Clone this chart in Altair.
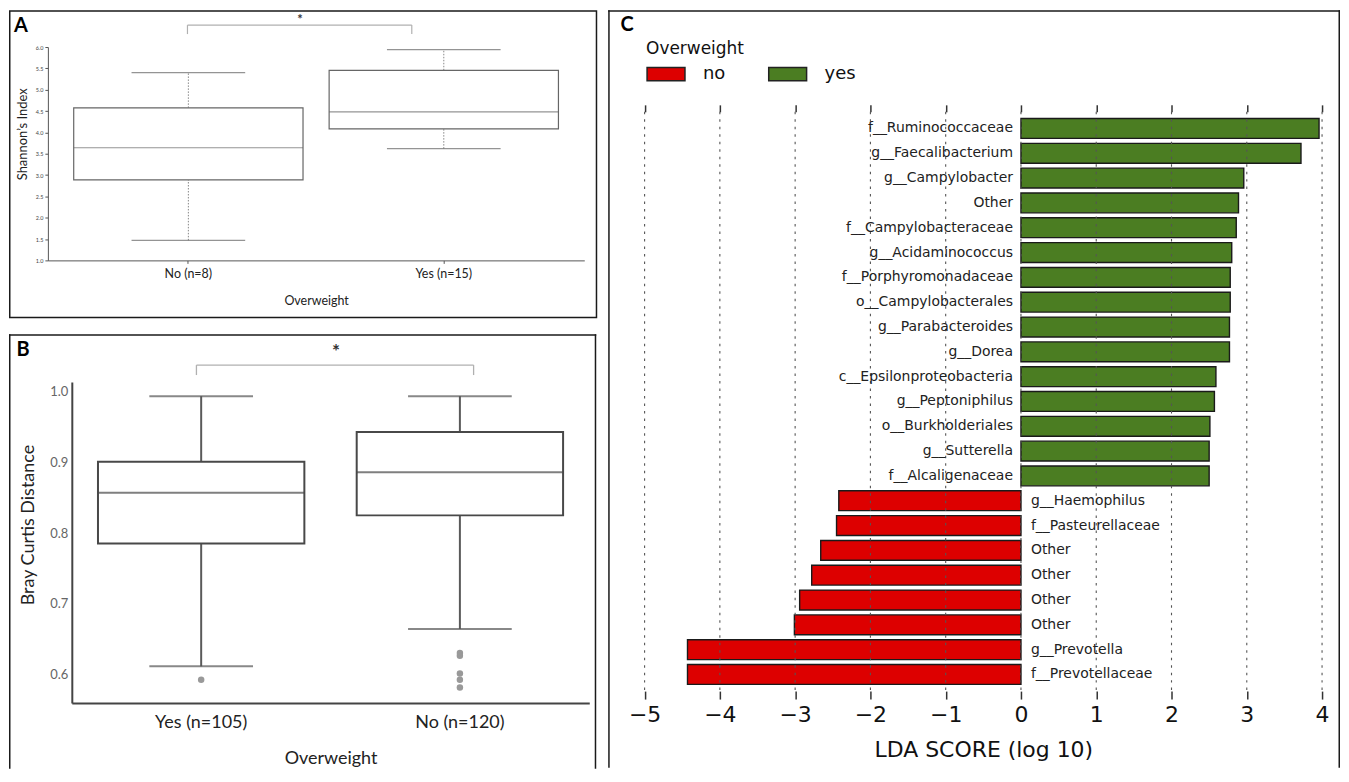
import altair as alt
import pandas as pd

# ---------------- Panel A : Shannon's index (box-plot summaries) ----------------
groups_a = ["No (n=8)", "Yes (n=15)"]
low_a = [1.47, 3.62]
q1_a = [2.885, 4.08]
med_a = [3.64, 4.48]
q3_a = [4.575, 5.455]
high_a = [5.40, 5.94]
ticks_a = [1.0, 1.5, 2.0, 2.5, 3.0, 3.5, 4.0, 4.5, 5.0, 5.5, 6.0]

# ---------------- Panel B : Bray Curtis distance ----------------
groups_b = ["Yes (n=105)", "No (n=120)"]
low_b = [0.611, 0.664]
q1_b = [0.785, 0.825]
med_b = [0.857, 0.886]
q3_b = [0.901, 0.943]
high_b = [0.994, 0.994]
outlier_group_b = ["Yes (n=105)", "No (n=120)", "No (n=120)", "No (n=120)", "No (n=120)", "No (n=120)"]
outlier_value_b = [0.592, 0.630, 0.626, 0.601, 0.592, 0.581]
ticks_b = [0.6, 0.7, 0.8, 0.9, 1.0]

# ---------------- Panel C : LDA scores ----------------
taxa_c = [
    "f__Ruminococcaceae", "g__Faecalibacterium", "g__Campylobacter", "Other",
    "f__Campylobacteraceae", "g__Acidaminococcus", "f__Porphyromonadaceae",
    "o__Campylobacterales", "g__Parabacteroides", "g__Dorea",
    "c__Epsilonproteobacteria", "g__Peptoniphilus", "o__Burkholderiales",
    "g__Sutterella", "f__Alcaligenaceae", "g__Haemophilus", "f__Pasteurellaceae",
    "Other", "Other", "Other", "Other", "g__Prevotella", "f__Prevotellaceae",
]
lda_c = [3.96, 3.72, 2.96, 2.89, 2.86, 2.80, 2.78, 2.78, 2.77, 2.77, 2.59, 2.57,
         2.51, 2.50, 2.50, -2.42, -2.45, -2.66, -2.78, -2.94, -3.01, -4.43, -4.43]
class_c = ["yes"] * 15 + ["no"] * 8
ticks_c = [-5, -4, -3, -2, -1, 0, 1, 2, 3, 4]
classes = ["no", "yes"]
class_colors = ["#dd0000", "#4b7d22"]

FONT_AB = "Lato"
FONT_C = "DejaVu Sans"
FRAME = "#1a1a1a"
one = pd.DataFrame({"k": [0]})


def deco():
    return alt.Chart(one)


def frame_closed(w, h):
    return deco().mark_rect(fillOpacity=0, stroke=FRAME, strokeWidth=1.5).encode(
        x=alt.value(0.75), x2=alt.value(w - 0.75), y=alt.value(0.75), y2=alt.value(h - 0.75))


def frame_open(w, h):
    left = deco().mark_rule(color=FRAME, strokeWidth=1.5).encode(
        x=alt.value(0.75), y=alt.value(0), y2=alt.value(h))
    top = deco().mark_rule(color=FRAME, strokeWidth=1.5).encode(
        x=alt.value(0), x2=alt.value(w), y=alt.value(0.75))
    right = deco().mark_rule(color=FRAME, strokeWidth=1.5).encode(
        x=alt.value(w - 0.75), y=alt.value(0), y2=alt.value(h))
    return [left, top, right]


def letter(t, x, y):
    return deco().mark_text(font=FONT_AB, fontSize=20, fontWeight="bold", color="#000",
                            align="center", baseline="middle").encode(
        x=alt.value(x), y=alt.value(y), text=alt.value(t))


def bracket(x1, x2, y, ydrop, color, width):
    h = deco().mark_rule(color=color, strokeWidth=width).encode(
        x=alt.value(x1), x2=alt.value(x2), y=alt.value(y))
    l = deco().mark_rule(color=color, strokeWidth=width).encode(
        x=alt.value(x1), y=alt.value(y), y2=alt.value(ydrop))
    r = deco().mark_rule(color=color, strokeWidth=width).encode(
        x=alt.value(x2), y=alt.value(y), y2=alt.value(ydrop))
    return [h, l, r]


def star(x, y, size):
    return deco().mark_text(font=FONT_AB, fontSize=size, fontWeight="bold", color="#333",
                            align="center", baseline="middle").encode(
        x=alt.value(x), y=alt.value(y), text=alt.value("*"))


# =============== Panel A ===============
WA, HA = 590, 309
df_a = pd.DataFrame({"group": groups_a, "low": low_a, "q1": q1_a, "med": med_a,
                     "q3": q3_a, "high": high_a})
xa_scale = alt.Scale(type="band", domain=groups_a, range=[39, 577],
                     paddingInner=0, paddingOuter=0.05)
ya_scale = alt.Scale(domain=[1, 6], range=[251, 37], nice=False, zero=False)
xa_axis = alt.Axis(orient="bottom", offset=-58, title="Overweight", labelAngle=0,
                   labelFont=FONT_AB, labelFontSize=12.5, labelColor="#222",
                   labelPadding=4, tickSize=3, tickColor="#555", domainColor="#555",
                   domainWidth=1, grid=False, titleFont=FONT_AB, titleFontSize=12.5,
                   titleFontWeight="normal", titleColor="#222", titleY=40,
                   titleBaseline="middle")
ya_axis = alt.Axis(orient="left", offset=-39, title="Shannon’s Index", values=ticks_a,
                   format=".1f", labelFont=FONT_AB, labelFontSize=5.5, labelColor="#444",
                   labelPadding=2, tickSize=3, tickColor="#555", domainColor="#555",
                   domainWidth=1, grid=False, titleFont=FONT_AB, titleFontSize=13,
                   titleFontWeight="normal", titleColor="#222", titleX=-25, titleY=124,
                   titleBaseline="middle")


def xa():
    return alt.X("group:N", scale=xa_scale, axis=xa_axis, sort=groups_a)


def ya(f):
    return alt.Y(f + ":Q", scale=ya_scale, axis=ya_axis)


base_a = alt.Chart(df_a)
a_layers = [
    base_a.mark_rule(color="#888", strokeWidth=1, strokeDash=[1.5, 1.5]).encode(
        x=xa(), y=ya("low"), y2="q1:Q"),
    base_a.mark_rule(color="#888", strokeWidth=1, strokeDash=[1.5, 1.5]).encode(
        x=xa(), y=ya("q3"), y2="high:Q"),
    base_a.mark_bar(size=230, fill="white", stroke="#666", strokeWidth=1.2).encode(
        x=xa(), y=ya("q1"), y2="q3:Q"),
    base_a.mark_tick(size=230, thickness=1.2, color="#666").encode(x=xa(), y=ya("med")),
    base_a.mark_tick(size=114, thickness=1.2, color="#666").encode(x=xa(), y=ya("low")),
    base_a.mark_tick(size=114, thickness=1.2, color="#666").encode(x=xa(), y=ya("high")),
    frame_closed(WA, HA),
    letter("A", 12, 16),
    *bracket(179, 404, 15, 24, "#b0b0b0", 1.2),
    star(292, 10, 13),
]
panel_a = alt.layer(*a_layers).properties(width=WA, height=HA)

# =============== Panel B ===============
WB, HB = 589, 436
df_b = pd.DataFrame({"group": groups_b, "low": low_b, "q1": q1_b, "med": med_b,
                     "q3": q3_b, "high": high_b})
df_bo = pd.DataFrame({"group": outlier_group_b, "value": outlier_value_b})
xb_scale = alt.Scale(type="band", domain=groups_b, range=[63, 582],
                     paddingInner=0, paddingOuter=0)
yb_scale = alt.Scale(domain=[0.559, 1.014], range=[370, 48], nice=False, zero=False)
xb_axis = alt.Axis(orient="bottom", offset=-66, title="Overweight", labelAngle=0,
                   labelFont=FONT_AB, labelFontSize=18, labelColor="#222",
                   labelPadding=11, ticks=False, tickSize=0, domainColor="#444",
                   domainWidth=2, grid=False, titleFont=FONT_AB, titleFontSize=18,
                   titleFontWeight="normal", titleColor="#222", titleY=56,
                   titleBaseline="middle")
yb_axis = alt.Axis(orient="left", offset=-63, title="Bray Curtis Distance", values=ticks_b,
                   format=".1f", labelFont=FONT_AB, labelFontSize=13, labelColor="#666",
                   labelPadding=4, ticks=False, tickSize=0, domainColor="#444",
                   domainWidth=2, grid=False, titleFont=FONT_AB, titleFontSize=18,
                   titleFontWeight="normal", titleColor="#222", titleX=-43, titleY=191,
                   titleBaseline="middle")


def xb():
    return alt.X("group:N", scale=xb_scale, axis=xb_axis, sort=groups_b)


def yb(f):
    return alt.Y(f + ":Q", scale=yb_scale, axis=yb_axis)


base_b = alt.Chart(df_b)
b_layers = [
    base_b.mark_rule(color="#5a5a5a", strokeWidth=2).encode(x=xb(), y=yb("low"), y2="q1:Q"),
    base_b.mark_rule(color="#5a5a5a", strokeWidth=2).encode(x=xb(), y=yb("q3"), y2="high:Q"),
    base_b.mark_bar(size=207, fill="white", stroke="#484848", strokeWidth=2).encode(
        x=xb(), y=yb("q1"), y2="q3:Q"),
    base_b.mark_tick(size=207, thickness=2, color="#484848").encode(x=xb(), y=yb("med")),
    base_b.mark_tick(size=104, thickness=2, color="#555").encode(x=xb(), y=yb("low")),
    base_b.mark_tick(size=104, thickness=2, color="#555").encode(x=xb(), y=yb("high")),
    alt.Chart(df_bo).mark_circle(size=42, color="#999", opacity=1).encode(
        x=xb(), y=yb("value")),
    *frame_open(WB, HB),
    letter("B", 14, 16),
    *bracket(188, 466, 31, 41, "#b0b0b0", 1.3),
    star(328, 18, 19),
]
panel_b = alt.layer(*b_layers).properties(width=WB, height=HB)

# =============== Panel C ===============
WC, HC = 734, 760
df_c = pd.DataFrame({"idx": list(range(len(taxa_c))), "taxon": taxa_c, "lda": lda_c,
                     "cls": class_c})
xc_scale = alt.Scale(domain=[-5, 4], range=[36.5, 716], nice=False, zero=False)
yc_scale = alt.Scale(domain=list(range(len(taxa_c))), range=[102, 683],
                     paddingInner=0.2, paddingOuter=0.27)
xc_axis_bottom = alt.Axis(orient="bottom", offset=-77, values=ticks_c, format="d",
                          labelFont=FONT_C, labelFontSize=22, labelColor="#111",
                          labelPadding=5, labelFlush=False, tickSize=8, tickColor="#333",
                          tickWidth=1.5, domain=False, grid=False,
                          title="LDA SCORE (log 10)", titleFont=FONT_C, titleFontSize=22,
                          titleFontWeight="normal", titleColor="#111", titleY=59,
                          titleBaseline="middle")
xc_axis_top = alt.Axis(orient="top", offset=-102, values=ticks_c, labels=False,
                       domain=False, grid=False, tickSize=7, tickColor="#333",
                       tickWidth=1.5, title=None)

bars_c = alt.Chart(df_c).mark_bar(stroke="#1a1a1a", strokeWidth=1.4).encode(
    x=alt.X("lda:Q", scale=xc_scale, axis=xc_axis_bottom),
    y=alt.Y("idx:O", scale=yc_scale, axis=None),
    color=alt.Color("cls:N", scale=alt.Scale(domain=classes, range=class_colors),
                    legend=alt.Legend(title="Overweight", orient="none", legendX=38,
                                      legendY=31, direction="horizontal",
                                      titleFont=FONT_C, titleFontSize=17,
                                      titleFontWeight="normal", titleColor="#111",
                                      titleAnchor="start", titlePadding=-4,
                                      labelFont=FONT_C, labelFontSize=18,
                                      labelColor="#111", labelOffset=17,
                                      columnPadding=40, padding=0,
                                      symbolType="M-1,-0.35L1,-0.35L1,0.35L-1,0.35Z",
                                      symbolSize=1444, symbolStrokeColor="#222",
                                      symbolStrokeWidth=1.5, symbolOpacity=1)),
)
grid_c = alt.Chart(pd.DataFrame({"t": ticks_c})).mark_rule(
    color="#555", strokeWidth=1.1, strokeDash=[2.5, 5]).encode(
    x=alt.X("t:Q", scale=xc_scale, axis=xc_axis_top),
    y=alt.value(102), y2=alt.value(683))
lab_yes = alt.Chart(df_c).transform_filter(alt.datum.cls == "yes").transform_calculate(
    base="0").mark_text(align="right", baseline="middle", dx=-8, font=FONT_C,
                        fontSize=14, color="#222").encode(
    x=alt.X("base:Q", scale=xc_scale, axis=None),
    y=alt.Y("idx:O", scale=yc_scale, axis=None), text="taxon:N")
lab_no = alt.Chart(df_c).transform_filter(alt.datum.cls == "no").transform_calculate(
    base="0").mark_text(align="left", baseline="middle", dx=10, font=FONT_C,
                        fontSize=14, color="#222").encode(
    x=alt.X("base:Q", scale=xc_scale, axis=None),
    y=alt.Y("idx:O", scale=yc_scale, axis=None), text="taxon:N")

panel_c = alt.layer(bars_c, grid_c, lab_yes, lab_no, *frame_open(WC, HC),
                    letter("C", 19, 15)).resolve_axis(x="independent").properties(
    width=WC, height=HC)

left = alt.vconcat(panel_a, panel_b, spacing=15)
chart = (alt.hconcat(left, panel_c, spacing=10)
         .resolve_scale(color="independent")
         .resolve_legend(color="independent")
         .properties(padding=0)
         .configure_view(stroke=None))

chart.save("out.html", embed_options={"renderer": "svg", "actions": False})
